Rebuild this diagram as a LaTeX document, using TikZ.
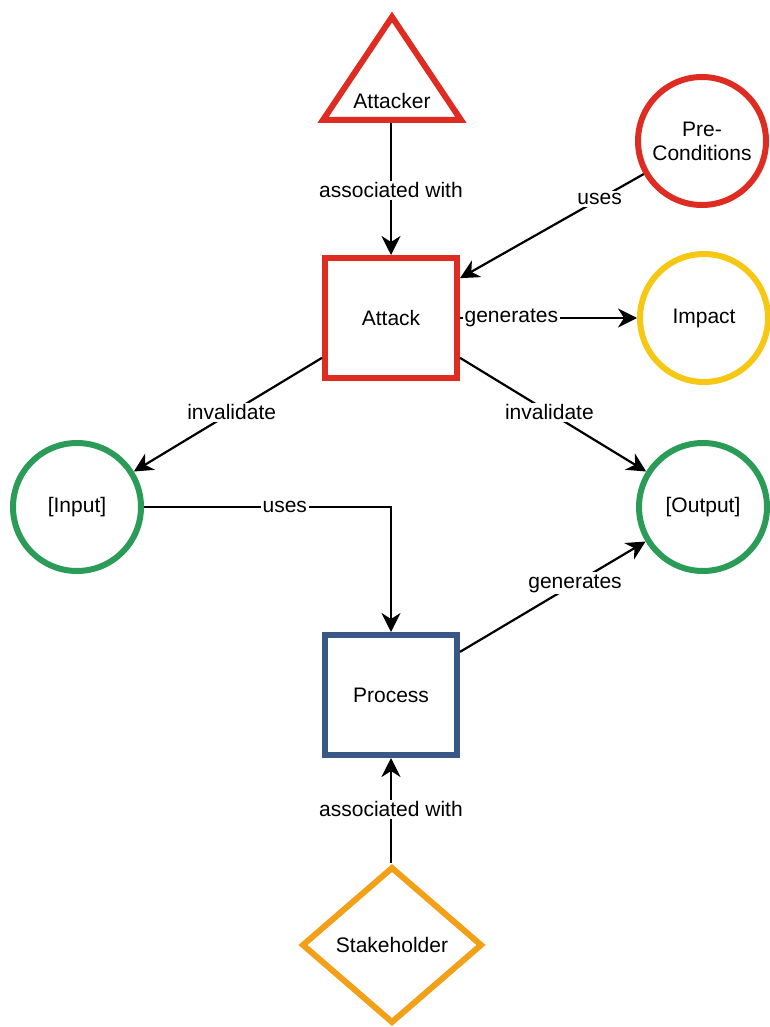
\documentclass[tikz,border=0pt]{standalone}
\usepackage{fontspec}
\setmainfont{Liberation Sans}
\usetikzlibrary{arrows.meta}
\definecolor{cred}{RGB}{222,44,34}
\definecolor{cyellow}{RGB}{246,200,20}
\definecolor{cgreen}{RGB}{42,156,88}
\definecolor{cblue}{RGB}{58,88,134}
\definecolor{corange}{RGB}{242,160,24}
\begin{document}
\begin{tikzpicture}[x=1pt,y=-1pt,
  every node/.style={font=\fontsize{21}{24}\selectfont},
  circ/.style={draw, circle, line width=6pt, minimum size=128pt, inner sep=0pt, align=center},
  box/.style={draw, rectangle, line width=6pt, minimum width=132pt, minimum height=120pt},
  conn/.style={line width=2.2pt, -{Stealth[length=19pt,width=19pt,inset=6pt]}},
  lbl/.style={fill=white, inner sep=2pt}]
\useasboundingbox (0,0) rectangle (770,1027);
% Attacker triangle
\draw[cred, line width=6pt, line join=miter] (323,120) -- (392,17) -- (461,120) -- cycle;
\node (attacker) at (392,101) {Attacker};
\coordinate (atkbase) at (391,123);
% Attack box
\node[box, draw=cred] (attack) at (391,318) {Attack};
% Pre-Conditions
\node[circ, draw=cred] (pre) at (702,141) {Pre-\\Conditions};
% Impact
\node[circ, draw=cyellow] (impact) at (704,318) {Impact};
% Input / Output
\node[circ, draw=cgreen] (input) at (77,507) {[Input]};
\node[circ, draw=cgreen] (output) at (703,507) {[Output]};
% Process
\node[box, draw=cblue] (process) at (391,695) {Process};
% Stakeholder diamond
\draw[corange, line width=6pt, line join=miter] (392,868) -- (481,945) -- (392,1022) -- (303,945) -- cycle;
\node (stakeholder) at (392,945) {Stakeholder};
\coordinate (stktop) at (391,863);
% connectors
\draw[conn] (atkbase) -- node[lbl, pos=0.51] {associated with} (attack.north);
\draw[conn] (pre) -- node[lbl, pos=0.24] {uses} (attack.30);
\draw[conn] (attack.east) -- node[lbl, pos=0.29] {generates} (impact.west);
\draw[conn] (attack.210) -- node[lbl, pos=0.48] {invalidate} (input.32);
\draw[conn] (attack.-30) -- node[lbl, pos=0.48] {invalidate} (output.148);
\draw[conn] (input.east) -| node[lbl, pos=0.285] {uses} (process.north);
\draw[conn] (process.32) -- node[lbl, pos=0.62] {generates} (output.211);
\draw[conn] (stktop) -- node[lbl, pos=0.51] {associated with} (process.south);
\end{tikzpicture}
\end{document}
